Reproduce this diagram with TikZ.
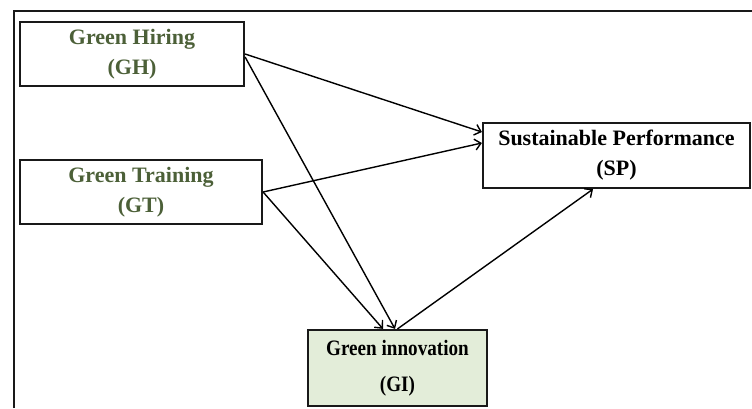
\documentclass[tikz,border=0pt]{standalone}
\usepackage{fontspec}
\setmainfont{Liberation Serif}
\newfontfamily\condfont{Liberation Serif}[FakeStretch=0.87]
\usetikzlibrary{arrows.meta}
\definecolor{txtgreen}{RGB}{76,96,56}
\definecolor{gifill}{RGB}{227,237,217}
\tikzset{
  box/.style={draw=black!90, line width=2.2pt, rectangle, align=center, inner sep=0pt,
    font=\fontsize{22}{30}\selectfont\bfseries},
  link/.style={line width=1.4pt, -{Straight Barb[length=6pt,width=11pt,line width=1.4pt]}},
}
\begin{document}
\begin{tikzpicture}[x=1pt,y=-1pt]
\useasboundingbox (0,0) rectangle (752,408);
\draw[line width=1.6pt, black!90] (14,408) -- (14,11) -- (752,11);
\node[box, text=txtgreen, minimum width=224pt, minimum height=64pt] (GH) at (132,54) {Green Hiring\\(GH)};
\node[box, text=txtgreen, minimum width=242pt, minimum height=64pt] (GT) at (141,192) {Green Training\\(GT)};
\node[box, minimum width=267pt, minimum height=65pt] (SP) at (616.5,155.5) {Sustainable Performance\\(SP)};
\node[box, fill=gifill, minimum width=179pt, minimum height=76pt, font=\fontsize{22}{36}\selectfont\condfont\bfseries] (GI) at (397.5,368) {Green innovation\\(GI)};
\draw[link] (GH.east) -- ([yshift=23.5pt]SP.west);
\draw[link] ([yshift=-3pt]GH.east) -- ([xshift=-2.5pt]GI.north);
\draw[link] (GT.east) -- ([yshift=12.5pt]SP.west);
\draw[link] (GT.east) -- ([xshift=-14.5pt]GI.north);
\draw[link] (GI.north) -- ([xshift=-23.5pt]SP.south);
\end{tikzpicture}
\end{document}
